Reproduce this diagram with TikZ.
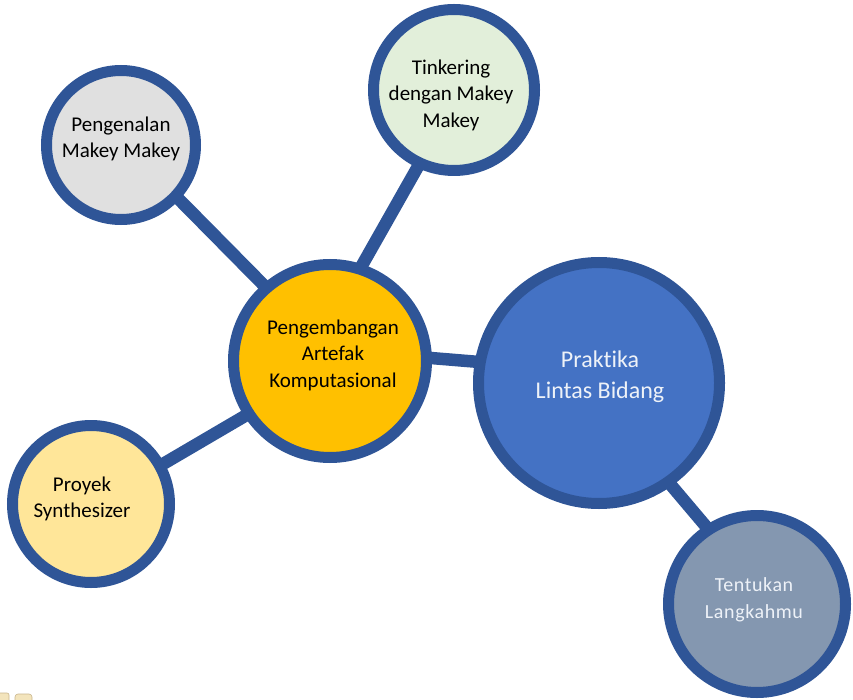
\documentclass[tikz,border=0pt]{standalone}
\usepackage{fontspec}
\setmainfont{Carlito}[Ligatures=NoCommon]
\usetikzlibrary{backgrounds}
\definecolor{rim}{HTML}{2F5597}
\definecolor{fgray}{HTML}{E0E0E0}
\definecolor{fgreen}{HTML}{E2EFDA}
\definecolor{fgold}{HTML}{FFC000}
\definecolor{fcream}{HTML}{FFE699}
\definecolor{fblue}{HTML}{4472C4}
\definecolor{fslate}{HTML}{8497B0}
\definecolor{lighttext}{HTML}{EEF2F8}
\definecolor{beige}{HTML}{F3E4BC}
\definecolor{beigeline}{HTML}{C9B68C}
\tikzset{
  bubble/.style={circle, draw=rim, line width=11pt, inner sep=0pt, outer sep=0pt},
  link/.style={draw=rim, line width=12.5pt},
  btext/.style={align=center, inner sep=0pt, font=\fontsize{21}{26.5}\selectfont},
}
\begin{document}
\begin{tikzpicture}[x=1pt,y=-1pt]
\useasboundingbox (0,0) rectangle (853,700);
% circles (outer radius r -> minimum size 2r-11)
\node[bubble, fill=fgray,  minimum size=149pt] (intro) at (121,145) {};
\node[bubble, fill=fgreen, minimum size=161pt] (tink)  at (454,90)  {};
\node[bubble, fill=fgold,  minimum size=193pt] (peng)  at (330,361) {};
\node[bubble, fill=fcream, minimum size=157pt] (proy)  at (91,504)  {};
\node[bubble, fill=fblue,  minimum size=241pt] (prak)  at (599,383) {};
\node[bubble, fill=fslate, minimum size=177pt] (tent)  at (757,604) {};
% texts
\node[btext] (introt) at (121,139) {Pengenalan\\Makey Makey};
\node[btext] (tinkt)  at (451,95)  {Tinkering\\dengan Makey\\Makey};
\node[btext] (pengt)  at (333,355) {Pengembangan\\Artefak\\Komputasional};
\node[btext] (proyt)  at (82,499)  {Proyek\\Synthesizer};
\node[btext, text=lighttext, font=\fontsize{24}{31}\selectfont] (prakt) at (600,377) {Praktika\\Lintas Bidang};
\node[btext, text=lighttext, font=\fontsize{20}{27}\addfontfeature{LetterSpace=3}] (tentt) at (754,600) {Tentukan\\Langkahmu};
% connectors
\begin{pgfonlayer}{background}
\draw[link] (intro.-43) -- (peng.131);
\draw[link] (tink.-115) -- (peng.72);
\draw[link] (peng.2) -- (prak.170);
\draw[link] (proy.29) -- (peng.213);
\draw[link] (prak.-55) -- (tent.123);
% clipped fragment at bottom-left corner
\begin{scope}
\clip (0,0) rectangle (853,700);
\draw[fill=beige, draw=beigeline, line width=0.6pt, rounded corners=2pt] (-4,693) rectangle (9,706);
\draw[fill=beige, draw=beigeline, line width=0.6pt, rounded corners=3pt] (15,694) rectangle (32,706);
\end{scope}
\end{pgfonlayer}
\end{tikzpicture}
\end{document}
